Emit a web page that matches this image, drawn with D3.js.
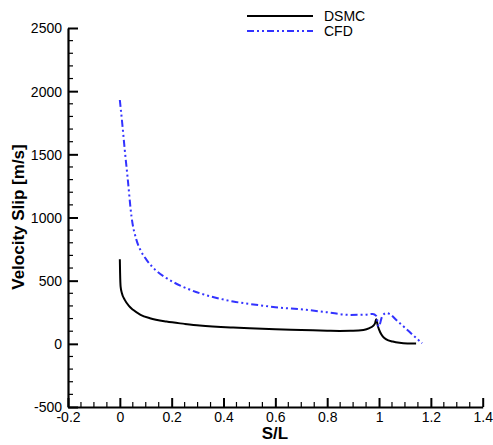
<!DOCTYPE html>
<html><head><meta charset="utf-8">
<script src="https://cdn.jsdelivr.net/npm/d3@7"></script>
<style>body{margin:0;background:#fff}svg{display:block}text{font-family:"Liberation Sans",Arial,sans-serif}</style>
</head><body>
<script>
const dsmcX = [0,0.001,0.003,0.008,0.019,0.035,0.051,0.08,0.116,0.18,0.25,0.308,0.437,0.5,0.6,0.7,0.8,0.848,0.9,0.94,0.963,0.976,0.985,0.989,0.996,1.005,1.015,1.028,1.053,1.079,1.11,1.143];
const dsmcV = [670,560,453,400,348,300,269,230,203,176,158,145,129,124,116,110,104,102,103,110,125,140,165,195,137,90,58,35,18,8,3,2];
const cfdX = [0,0.01,0.019,0.03,0.045,0.064,0.08,0.103,0.14,0.18,0.24,0.308,0.37,0.437,0.5,0.6,0.719,0.8,0.886,0.94,0.976,0.989,0.999,1.012,1.028,1.04,1.07,1.1,1.13,1.166];
const cfdV = [1930,1730,1535,1315,1007,823,740,665,580,520,455,401,365,335,316,290,269,250,229,230,237,221,137,216,243,237,182,128,71,5];
const xTicks = [-0.2,0,0.2,0.4,0.6,0.8,1,1.2,1.4];
const xTickLabels = ["-0.2","0","0.2","0.4","0.6","0.8","1","1.2","1.4"];
const yTicks = [-500,0,500,1000,1500,2000,2500];
const yTickLabels = ["-500","0","500","1000","1500","2000","2500"];
const seriesNames = ["DSMC","CFD"];

const W=493,H=445;
const svg=d3.select("body").append("svg").attr("width",W).attr("height",H);
const x=d3.scaleLinear().domain([-0.2,1.4]).range([68,482.7]);
const y=d3.scaleLinear().domain([-500,2500]).range([407,28]);

// minor ticks
const xMinor=d3.range(-0.2,1.4001,0.05).filter(v=>!xTicks.some(t=>Math.abs(t-v)<1e-6));
const yMinor=d3.range(-500,2501,100).filter(v=>!yTicks.includes(v));
const g=svg.append("g");
g.selectAll(".xmin").data(xMinor).join("line").attr("x1",d=>x(d)).attr("x2",d=>x(d)).attr("y1",407).attr("y2",402).attr("stroke","#000").attr("stroke-width",1.2);
g.selectAll(".ymin").data(yMinor).join("line").attr("y1",d=>y(d)).attr("y2",d=>y(d)).attr("x1",68).attr("x2",73).attr("stroke","#000").attr("stroke-width",1.2);

const xAxis=d3.axisBottom(x).tickValues(xTicks).tickFormat((d,i)=>xTickLabels[i]).tickSizeInner(-9).tickSizeOuter(0).tickPadding(6);
const gx=svg.append("g").attr("transform","translate(0,407)").call(xAxis);
gx.select(".domain").attr("stroke-width",2.2);
gx.selectAll(".tick line").attr("stroke-width",2);
gx.selectAll(".tick text").attr("font-size",14).attr("fill","#000").attr("dy",null).attr("y",15);

const yAxis=d3.axisLeft(y).tickValues(yTicks).tickFormat((d,i)=>yTickLabels[i]).tickSizeInner(-10).tickSizeOuter(0).tickPadding(6);
const gy=svg.append("g").attr("transform","translate(68,0)").call(yAxis);
gy.select(".domain").attr("stroke-width",2.2);
gy.selectAll(".tick line").attr("stroke-width",2);
gy.selectAll(".tick text").attr("font-size",14).attr("fill","#000").attr("x",-6).attr("dy","0.35em");

svg.append("text").attr("x",275).attr("y",439).attr("text-anchor","middle").attr("font-size",17).attr("font-weight","bold").text("S/L");
svg.append("text").attr("transform","translate(24,217) rotate(-90)").attr("text-anchor","middle").attr("font-size",17).attr("font-weight","bold").text("Velocity Slip [m/s]");

const line=d3.line().x(d=>x(d[0])).y(d=>y(d[1])).curve(d3.curveMonotoneX);
const dsmc=dsmcX.map((v,i)=>[v,dsmcV[i]]);
const cfd=cfdX.map((v,i)=>[v,cfdV[i]]);
svg.append("path").datum(dsmc).attr("d",line).attr("fill","none").attr("stroke","#000").attr("stroke-width",2);
svg.append("path").datum(cfd).attr("d",line).attr("fill","none").attr("stroke","#3333ff").attr("stroke-width",2).attr("stroke-dasharray","7,3,2,3,2,3");

// legend
const leg=[{n:seriesNames[0],c:"#000",d:null,y:16},{n:seriesNames[1],c:"#3333ff",d:"7,3,2,3,2,3",y:31}];
leg.forEach(l=>{
  svg.append("line").attr("x1",247).attr("x2",313).attr("y1",l.y).attr("y2",l.y).attr("stroke",l.c).attr("stroke-width",2).attr("stroke-dasharray",l.d);
  svg.append("text").attr("x",324).attr("y",l.y+5).attr("font-size",14).attr("fill","#000").text(l.n);
});
</script>
</body></html>
